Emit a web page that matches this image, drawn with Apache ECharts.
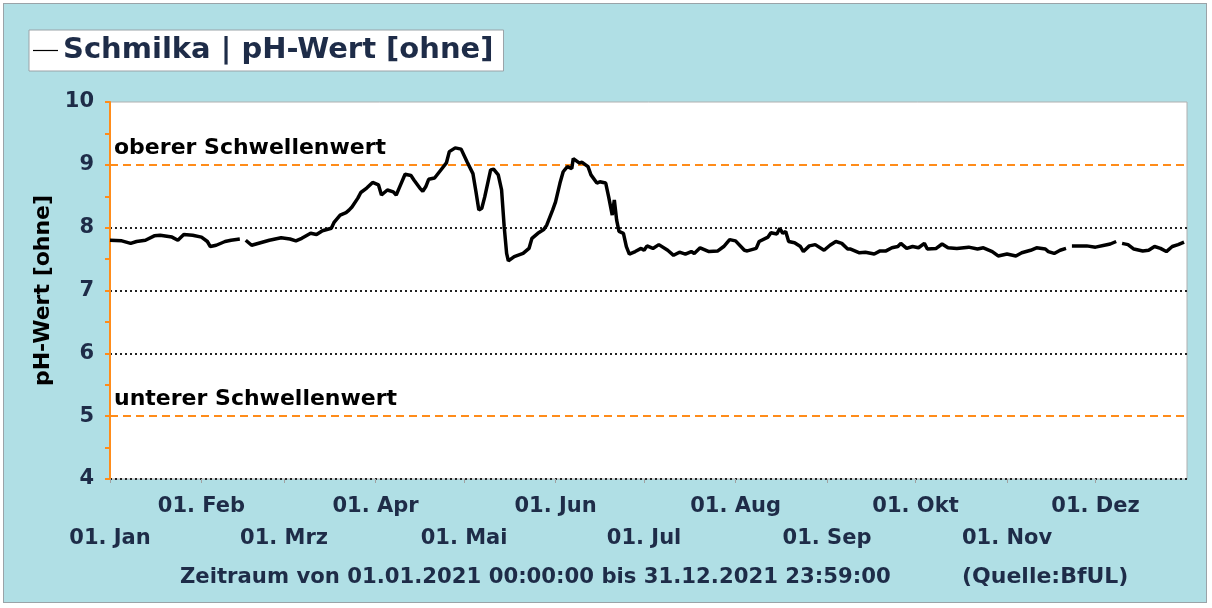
<!DOCTYPE html>
<html>
<head>
<meta charset="utf-8">
<script src="https://cdn.jsdelivr.net/npm/echarts@6/dist/echarts.min.js"></script>
<style>
html,body{margin:0;padding:0;background:#ffffff;}
#frame{position:absolute;left:3px;top:3px;width:1204px;height:600px;border:1px solid #9aa3a8;background:#b0dfe5;box-sizing:border-box;}
#chart{position:absolute;left:0;top:0;width:1212px;height:608px;}
</style>
</head>
<body>
<div id="frame"></div>
<div id="chart"></div>
<script>
// ---- data ----
const seriesName = 'Schmilka | pH-Wert [ohne]';
const dates = [
'2021-01-01','2021-01-05','2021-01-08','2021-01-10','2021-01-13','2021-01-16','2021-01-18','2021-01-22','2021-01-24','2021-01-26',
'2021-01-29','2021-02-01','2021-02-03','2021-02-04','2021-02-06','2021-02-09','2021-02-11','2021-02-14','2021-02-15','2021-02-16',
'2021-02-18','2021-02-21','2021-02-24','2021-02-28','2021-03-03','2021-03-05','2021-03-07','2021-03-10','2021-03-12','2021-03-14',
'2021-03-17','2021-03-18','2021-03-20','2021-03-22','2021-03-23','2021-03-24','2021-03-26','2021-03-27','2021-03-29','2021-03-31',
'2021-04-02','2021-04-03','2021-04-05','2021-04-07','2021-04-08','2021-04-09','2021-04-11','2021-04-13','2021-04-14','2021-04-16',
'2021-04-17','2021-04-18','2021-04-19','2021-04-21','2021-04-23','2021-04-25','2021-04-26','2021-04-28','2021-04-30','2021-05-02',
'2021-05-04','2021-05-05','2021-05-06','2021-05-07','2021-05-08','2021-05-10','2021-05-11','2021-05-12 14:00','2021-05-13 17:00','2021-05-14 14:00',
'2021-05-15 10:00','2021-05-16','2021-05-18','2021-05-21','2021-05-23','2021-05-24','2021-05-26','2021-05-28','2021-05-29','2021-05-31',
'2021-06-01','2021-06-02 12:00','2021-06-03 14:00','2021-06-05','2021-06-06 12:00','2021-06-07','2021-06-09','2021-06-10','2021-06-12','2021-06-13',
'2021-06-15','2021-06-16','2021-06-18','2021-06-19','2021-06-20 05:00','2021-06-20 22:00','2021-06-21 17:00','2021-06-22 12:00','2021-06-24','2021-06-25',
'2021-06-26','2021-06-28','2021-06-30','2021-07-01','2021-07-02','2021-07-04','2021-07-06','2021-07-09','2021-07-11','2021-07-13',
'2021-07-15','2021-07-17','2021-07-18','2021-07-20','2021-07-23','2021-07-26','2021-07-28','2021-07-30','2021-08-01','2021-08-04',
'2021-08-05','2021-08-08','2021-08-09','2021-08-12','2021-08-13','2021-08-15','2021-08-16','2021-08-17','2021-08-18','2021-08-19',
'2021-08-21','2021-08-23','2021-08-24','2021-08-26','2021-08-28','2021-08-31','2021-09-02','2021-09-04','2021-09-06','2021-09-08',
'2021-09-09','2021-09-12','2021-09-14','2021-09-17','2021-09-19','2021-09-21','2021-09-23','2021-09-25','2021-09-26','2021-09-28',
'2021-09-30','2021-10-02','2021-10-04','2021-10-05','2021-10-08','2021-10-10','2021-10-12','2021-10-15','2021-10-19','2021-10-22',
'2021-10-24','2021-10-27','2021-10-29','2021-11-01','2021-11-04','2021-11-06','2021-11-09','2021-11-11','2021-11-14','2021-11-15',
'2021-11-17','2021-11-19','2021-11-21','2021-11-22','2021-11-23','2021-11-26','2021-11-28','2021-12-01','2021-12-04','2021-12-06',
'2021-12-08','2021-12-09','2021-12-10','2021-12-12','2021-12-14','2021-12-17','2021-12-19','2021-12-21','2021-12-23','2021-12-25',
'2021-12-27','2021-12-29','2021-12-31'
];
const phValues = [
7.80,7.79,7.75,7.78,7.80,7.87,7.88,7.85,7.80,7.89,
7.88,7.85,7.78,7.70,7.72,7.78,7.80,7.82,null,7.80,
7.72,7.76,7.80,7.84,7.82,7.79,7.83,7.91,7.89,7.95,
7.99,8.09,8.20,8.24,8.28,8.33,8.47,8.56,8.63,8.72,
8.68,8.52,8.60,8.57,8.52,8.63,8.85,8.83,8.76,8.63,
8.58,8.65,8.77,8.79,8.91,9.03,9.21,9.27,9.25,9.05,
8.86,8.58,8.28,8.31,8.49,8.92,8.93,8.84,8.60,8.02,
7.59,7.47,7.54,7.59,7.67,7.83,7.91,7.97,8.04,8.28,
8.41,8.71,8.89,8.97,8.94,9.10,9.03,9.04,8.97,8.84,
8.71,8.73,8.71,8.49,8.20,8.44,8.12,7.94,7.91,7.70,
7.58,7.62,7.67,7.64,7.71,7.67,7.73,7.64,7.56,7.61,
7.58,7.62,7.59,7.68,7.62,7.63,7.70,7.81,7.79,7.64,
7.63,7.67,7.78,7.85,7.92,7.90,7.99,7.91,7.94,7.78,
7.76,7.70,7.62,7.71,7.73,7.64,7.72,7.78,7.75,7.66,
7.66,7.60,7.61,7.58,7.63,7.63,7.68,7.70,7.75,7.67,
7.70,7.68,7.75,7.66,7.67,7.74,7.68,7.67,7.69,7.66,
7.68,7.62,7.55,7.58,7.55,7.60,7.64,7.68,7.66,7.62,
7.59,7.64,7.67,null,7.71,7.71,7.71,7.69,7.72,7.74,
7.78,null,7.75,7.73,7.66,7.63,7.64,7.70,7.67,7.62,
7.70,7.73,7.77
];
const monthNames = ['Jan','Feb','Mrz','Apr','Mai','Jun','Jul','Aug','Sep','Okt','Nov','Dez'];
const yTicks = [4,5,6,7,8,9,10];
const thresholds = [9, 5];
const thresholdLabels = ['oberer Schwellenwert', 'unterer Schwellenwert'];
const periodText = 'Zeitraum von 01.01.2021 00:00:00 bis 31.12.2021 23:59:00';
const sourceText = '(Quelle:BfUL)';

// ---- chart ----
const FONT = 'DejaVu Sans';
const NAVY = '#1e2c48';
const ORANGE = '#ff8c1a';
function toTime(s) {
  const m = s.match(/^(\d{4})-(\d{2})-(\d{2})(?: (\d{2}):(\d{2}))?$/);
  return new Date(+m[1], +m[2] - 1, +m[3], m[4] ? +m[4] : 0, m[5] ? +m[5] : 0).getTime();
}
const monthStarts = monthNames.map((m, i) => new Date(2021, i, 1).getTime());
const evenMonths = monthStarts.filter((t, i) => i % 2 === 1);
const oddMonths = monthStarts.filter((t, i) => i % 2 === 0);
const fmtMonth = v => '01. ' + monthNames[new Date(v).getMonth()];
const xMin = new Date(2021, 0, 1).getTime();
const xMax = new Date(2021, 11, 31, 23, 59).getTime();

const chart = echarts.init(document.getElementById('chart'), null, {renderer: 'canvas'});
const baseX = {
  type: 'value', min: xMin, max: xMax, position: 'bottom', scale: true,
  axisLine: {show: false}, splitLine: {show: false}
};
chart.setOption({
  backgroundColor: 'transparent',
  animation: false,
  textStyle: {fontFamily: FONT},
  title: [
    {text: periodText, left: 175, top: 562, textStyle: {fontFamily: FONT, fontSize: 21.2, fontWeight: 'bold', color: NAVY}},
    {text: sourceText, left: 957, top: 561, textStyle: {fontFamily: FONT, fontSize: 22, fontWeight: 'bold', color: NAVY}}
  ],
  legend: {
    left: 29, top: 30,
    backgroundColor: '#ffffff', borderColor: '#9aa3a8', borderWidth: 1,
    padding: [6, 10, 6, 4],
    icon: 'rect', itemWidth: 25, itemHeight: 1.2, itemGap: 6,
    textStyle: {fontFamily: FONT, fontSize: 29, fontWeight: 'bold', color: NAVY},
    data: [{name: seriesName, itemStyle: {color: '#000'}}]
  },
  grid: {left: 110, right: 25, top: 102, bottom: 129, show: true, backgroundColor: '#ffffff', borderColor: '#b0b0b0', borderWidth: 1},
  xAxis: [
    Object.assign({}, baseX, {
      axisTick: {show: true, customValues: monthStarts, length: 4, lineStyle: {color: '#a0a0a0'}},
      axisLabel: {customValues: evenMonths, formatter: fmtMonth, margin: 17, fontFamily: FONT, fontSize: 21, fontWeight: 'bold', color: NAVY, hideOverlap: false}
    }),
    Object.assign({}, baseX, {
      axisTick: {show: false},
      axisLabel: {customValues: oddMonths, formatter: fmtMonth, margin: 49, fontFamily: FONT, fontSize: 21, fontWeight: 'bold', color: NAVY, hideOverlap: false}
    })
  ],
  yAxis: {
    type: 'value', min: yTicks[0], max: yTicks[yTicks.length - 1], interval: 1,
    name: 'pH-Wert [ohne]', nameLocation: 'middle', nameGap: 56, nameRotate: 90,
    nameTextStyle: {fontFamily: FONT, fontSize: 22, fontWeight: 'bold', color: '#000'},
    axisLine: {show: true, lineStyle: {color: ORANGE, width: 2}},
    axisTick: {show: true, length: 5, lineStyle: {color: ORANGE, width: 2}},
    minorTick: {show: true, splitNumber: 2, length: 5, lineStyle: {color: ORANGE, width: 2}},
    axisLabel: {margin: 16, fontFamily: FONT, fontSize: 21, fontWeight: 'bold', color: NAVY},
    splitLine: {show: true, lineStyle: {color: ['#222', 'rgba(0,0,0,0)', '#222', '#222', '#222', 'rgba(0,0,0,0)', 'rgba(0,0,0,0)'], width: 2, type: [2, 3]}}
  },
  series: [{
    name: seriesName,
    type: 'line',
    xAxisIndex: 0,
    data: dates.map((d, i) => [toTime(d), phValues[i]]),
    showSymbol: false,
    connectNulls: false,
    lineStyle: {color: '#000', width: 3.5},
    itemStyle: {color: '#000'},
    z: 5,
    markLine: {
      silent: true, symbol: 'none', animation: false,
      lineStyle: {color: ORANGE, width: 2, type: [8, 5]},
      label: {show: true, position: 'insideStartTop', distance: [4, 6], color: '#000', fontFamily: FONT, fontSize: 22, fontWeight: 'bold'},
      data: thresholds.map((t, i) => ({yAxis: t, label: {formatter: thresholdLabels[i]}}))
    }
  }]
});
</script>
</body>
</html>
